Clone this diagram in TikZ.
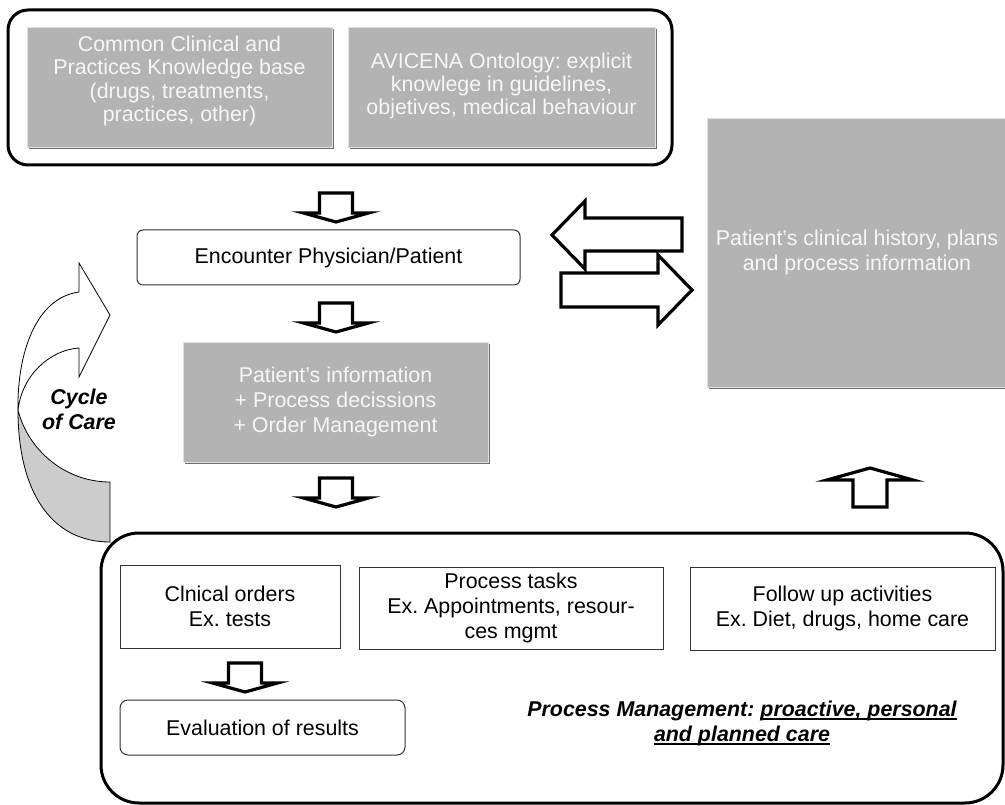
\documentclass[tikz,border=0pt]{standalone}
\usepackage{fontspec}
\setmainfont{Liberation Sans}
\usetikzlibrary{shadows}
\frenchspacing
\definecolor{boxgray}{RGB}{179,179,179}
\definecolor{shadowgray}{RGB}{110,110,110}
\definecolor{backgray}{RGB}{204,204,204}
\definecolor{softwhite}{RGB}{246,246,246}
\newcommand\ulx[1]{\setbox0\hbox{#1}\rlap{\rule[-3.5pt]{\wd0}{1.8pt}}\box0}
\newcommand\blkdown[6]{\draw[blockarrow] (#1-#5,#2) -- (#1+#5,#2) -- (#1+#5,#3) -- (#1+#6,#3) -- (#1,#4) -- (#1-#6,#3) -- (#1-#5,#3) -- cycle;}
\begin{document}
\begin{tikzpicture}[x=1pt,y=-1pt,
  txt/.style={font=\fontsize{21.4}{25}\selectfont, align=center},
  graybox/.style={fill=boxgray, draw=black!12, line width=0.8pt, inner sep=0pt,
    general shadow={fill=shadowgray, shadow xshift=2pt, shadow yshift=-2pt}},
  graytext/.style={txt, text=softwhite, inner sep=0pt},
  container/.style={draw, line width=3pt, rounded corners=#1, inner sep=0pt},
  whitebox/.style={txt, draw=black!80, line width=1pt, fill=white, inner sep=0pt},
  blockarrow/.style={draw, line width=3.2pt, fill=white, line join=miter, miter limit=20},
  bi/.style={txt, font=\fontsize{21.4}{25}\selectfont\bfseries\itshape},
]
\useasboundingbox (0,0) rectangle (1005,805);
\clip (0,0) rectangle (1005,805);

% top container
\node[container=20pt, minimum width=664pt, minimum height=155pt] (top) at (340,87.5) {};
\node[graybox, minimum width=305pt, minimum height=120pt] (kb1) at (179.5,87) {};
\node[graytext, font=\fontsize{21.4}{23.4}\selectfont] at ([yshift=6pt]kb1.center) {Common Clinical and\\Practices Knowledge base\\(drugs, treatments,\\practices, other)};
\node[graybox, minimum width=307pt, minimum height=120pt] (kb2) at (501.5,87) {};
\node[graytext, font=\fontsize{21.4}{23.4}\selectfont] at ([yshift=1pt]kb2.center) {AVICENA Ontology: explicit\\knowlege in guidelines,\\objetives, medical behaviour};

% right history box
\node[graybox, minimum width=300pt, minimum height=269pt] (hist) at (857,252.5) {};
\node[graytext] at (hist.center) {Patient’s clinical history, plans\\and process information};

% encounter
\node[whitebox, rounded corners=6pt, minimum width=383pt, minimum height=55pt] (enc) at (328.5,257.5) {Encounter Physician/Patient};

% patient's information
\node[graybox, minimum width=305pt, minimum height=120pt] (pinfo) at (335.5,402) {};
\node[graytext] at (pinfo.center) {Patient’s information\\+ Process decissions\\+ Order Management};

% block arrows
\blkdown{336}{193}{213}{222}{16.5}{32.5}
\blkdown{336}{303}{323}{332}{16.5}{32.5}
\blkdown{336}{478}{498}{507}{16.5}{32.5}
\blkdown{245}{663}{683}{692}{16.5}{32.5}
\draw[blockarrow] (853,507) -- (887,507) -- (887,480) -- (913,480) -- (870,468) -- (827,480) -- (853,480) -- cycle;
\draw[blockarrow] (682,218) -- (682,251) -- (585,251) -- (585,269) -- (552,235) -- (585,201) -- (585,218) -- cycle;
\draw[blockarrow] (561,273) -- (658,273) -- (658,255) -- (692,290) -- (658,325) -- (658,307) -- (561,307) -- cycle;

% cycle of care curved arrow
\draw[line width=0.8pt, fill=backgray] (18,410) .. controls (18,490) and (50,542) .. (110,542) -- (110,482) .. controls (65,482) and (28,450) .. (18,410) -- cycle;
\draw[line width=0.8pt, fill=white, line join=miter] (79,292) .. controls (35,298) and (17,355) .. (18,410) .. controls (22,375) and (50,350) .. (79,348) -- (79,377) -- (110,315) -- (79,263) -- cycle;
\node[bi] (cyc) at (79,409) {Cycle\\of Care};

% bottom container
\node[container=38pt, minimum width=902pt, minimum height=270pt] (bottom) at (552,668) {};
\node[whitebox, minimum width=220pt, minimum height=83pt] (orders) at (230,606.5) {Clnical orders\\Ex. tests};
\node[whitebox, minimum width=304pt, minimum height=82pt] (tasks) at (511,608) {Process tasks\\Ex. Appointments, resour-\\ces mgmt};
\node[whitebox, minimum width=305pt, minimum height=83pt] (follow) at (842.5,608.5) {Follow up activities\\Ex. Diet, drugs, home care};
\node[whitebox, rounded corners=8pt, minimum width=285pt, minimum height=55pt] (eval) at (262.5,727.5) {Evaluation of results};
\node[bi] (pm) at (742,723) {Process Management: \ulx{proactive, personal}\\\ulx{and planned care}};
\end{tikzpicture}
\end{document}
